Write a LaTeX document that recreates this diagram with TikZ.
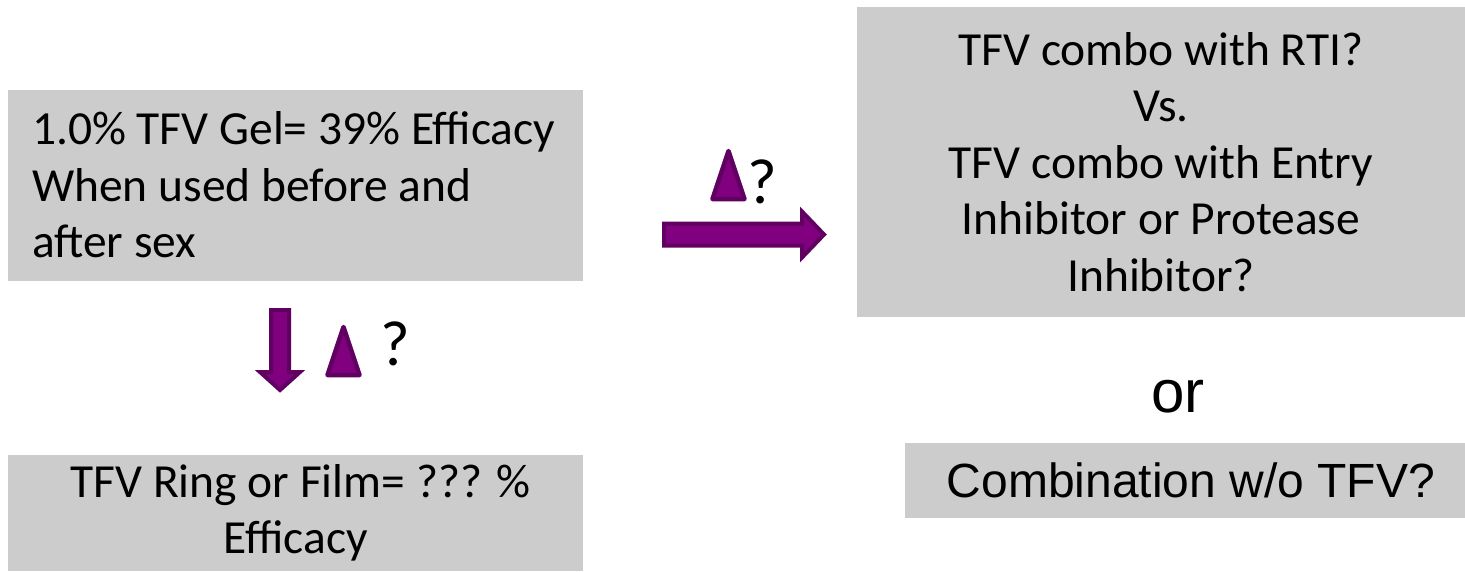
\documentclass[tikz,border=0pt]{standalone}
\usepackage{fontspec}
\usetikzlibrary{calc}
\newfontfamily\calfont{Carlito}
\newfontfamily\arifont{Liberation Sans}
\definecolor{boxgray}{RGB}{204,204,204}
\definecolor{purplefill}{RGB}{128,0,128}
\definecolor{purpleline}{RGB}{96,0,96}
\tikzset{
  graybox/.style={fill=boxgray, draw=none, inner sep=0pt, text=black},
  boxtext/.style={font=\calfont\fontsize{47.5}{56.5}\selectfont},
  blockarrow/.style={fill=purplefill, draw=purpleline, line width=4pt, line join=miter},
  deltatri/.style={fill=purplefill, draw=purpleline, line width=4.5pt, line join=round},
  qmark/.style={font=\calfont\fontsize{64}{70}\selectfont, inner sep=0pt, anchor=base},
}
\begin{document}
\begin{tikzpicture}[x=1pt, y=-1pt]
\useasboundingbox (0,0) rectangle (1465,571);

% boxes
\node[graybox, boxtext, minimum width=575pt, minimum height=191pt, text width=527pt, inner xsep=24pt, align=flush left]
  (gel) at (295.5,185) {1.0\% TFV Gel= 39\% Efficacy\\When used before and\\after sex};
\node[graybox, boxtext, minimum width=575pt, minimum height=116pt, text width=575pt, align=flush center]
  (ring) at (295.5,513) {\hspace*{10pt}TFV Ring or Film= ??? \%\\Efficacy};
\node[graybox, boxtext, minimum width=608pt, minimum height=310pt, text width=608pt, align=flush center]
  (combo) at (1161,162) {TFV combo with RTI?\\Vs.\\TFV combo with Entry\\Inhibitor or Protease\\Inhibitor?};
\node[graybox, font=\arifont\fontsize{48}{56}\selectfont, minimum width=560pt, minimum height=75pt]
  (notfv) at (1185,480.5) {\hspace*{12pt}Combination w/o TFV?};
\node[font=\arifont\fontsize{60}{66}\selectfont, inner sep=0pt, anchor=base] (or) at (1178,412) {or};

% right block arrow
\coordinate (ra) at (664,234.5);
\coordinate (rb) at (824,234.5);
\draw[blockarrow] ($(ra)+(0,-11)$) -- ($(rb)+(-22,-11)$) -- ($(rb)+(-22,-23)$) -- (rb)
  -- ($(rb)+(-22,23)$) -- ($(rb)+(-22,11)$) -- ($(ra)+(0,11)$) -- cycle;

% down block arrow
\coordinate (da) at (280,310);
\coordinate (db) at (280,390);
\draw[blockarrow] ($(da)+(-9,0)$) -- ($(db)+(-9,-18)$) -- ($(db)+(-20,-18)$) -- (db)
  -- ($(db)+(20,-18)$) -- ($(db)+(9,-18)$) -- ($(da)+(9,0)$) -- cycle;

% delta triangles
\coordinate (t1) at (728.5,151);
\draw[deltatri] (t1) -- ($(t1)+(16,48)$) -- ($(t1)+(-16,48)$) -- cycle;
\coordinate (t2) at (343.5,327);
\draw[deltatri] (t2) -- ($(t2)+(16,48)$) -- ($(t2)+(-16,48)$) -- cycle;

% question marks
\node[qmark] (q1) at (762,203) {?};
\node[qmark] (q2) at (395,365) {?};
\end{tikzpicture}
\end{document}
